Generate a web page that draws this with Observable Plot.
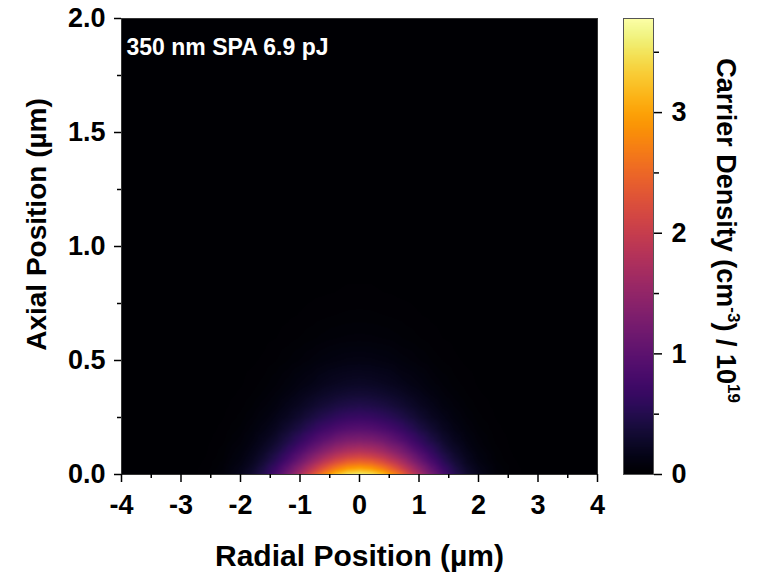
<!DOCTYPE html>
<html>
<head>
<meta charset="utf-8">
<script src="https://cdn.jsdelivr.net/npm/d3@7"></script>
<script src="https://cdn.jsdelivr.net/npm/@observablehq/plot@0.6"></script>
<style>
  body { margin: 0; background: #fff; }
  #wrap { position: relative; width: 764px; height: 573px; background: #fff; }
  #wrap svg { position: absolute; left: 0; top: 0; }
</style>
</head>
<body>
<div id="wrap"></div>
<script>
// ---- data ----
// radial positions (µm) of the sampled columns (mirrored to negative side)
const radial = [0, 0.2, 0.4, 0.6, 0.8, 1.0, 1.2, 1.4, 1.6, 1.8, 2.0, 2.3, 2.6, 3.0, 4.0];
// axial positions (µm) of the sampled rows
const axial = [0, 0.025, 0.05, 0.075, 0.1, 0.15, 0.2, 0.25, 0.3, 0.35, 0.4, 0.5, 0.6, 0.7, 0.8, 1.0, 2.0];
// carrier density / 1e19 cm^-3, one row per axial position
const density = [
  [3.60, 3.50, 3.20, 2.76, 2.24, 1.72, 1.24, 0.84, 0.54, 0.33, 0.19, 0.07, 0.02, 0.005, 0],
  [3.05, 2.96, 2.70, 2.33, 1.89, 1.45, 1.05, 0.71, 0.46, 0.28, 0.16, 0.06, 0.02, 0.004, 0],
  [2.58, 2.51, 2.29, 1.98, 1.61, 1.23, 0.89, 0.60, 0.39, 0.23, 0.13, 0.05, 0.017, 0.004, 0],
  [2.19, 2.12, 1.94, 1.67, 1.36, 1.04, 0.75, 0.51, 0.33, 0.20, 0.11, 0.04, 0.015, 0.003, 0],
  [1.85, 1.79, 1.64, 1.41, 1.15, 0.88, 0.64, 0.43, 0.28, 0.17, 0.095, 0.037, 0.012, 0.003, 0],
  [1.32, 1.29, 1.18, 1.01, 0.82, 0.63, 0.46, 0.31, 0.20, 0.12, 0.068, 0.026, 0.009, 0.002, 0],
  [0.95, 0.92, 0.84, 0.73, 0.59, 0.45, 0.33, 0.22, 0.14, 0.086, 0.049, 0.019, 0.006, 0.001, 0],
  [0.68, 0.66, 0.60, 0.52, 0.42, 0.32, 0.23, 0.16, 0.10, 0.062, 0.035, 0.014, 0.005, 0.001, 0],
  [0.49, 0.47, 0.43, 0.37, 0.30, 0.23, 0.17, 0.11, 0.073, 0.044, 0.025, 0.010, 0.003, 0.001, 0],
  [0.35, 0.34, 0.31, 0.27, 0.22, 0.17, 0.12, 0.080, 0.052, 0.032, 0.018, 0.007, 0.002, 0, 0],
  [0.25, 0.24, 0.22, 0.19, 0.15, 0.12, 0.085, 0.058, 0.037, 0.023, 0.013, 0.005, 0.002, 0, 0],
  [0.13, 0.126, 0.115, 0.10, 0.08, 0.062, 0.045, 0.030, 0.019, 0.012, 0.007, 0.003, 0.001, 0, 0],
  [0.065, 0.063, 0.058, 0.050, 0.040, 0.031, 0.022, 0.015, 0.010, 0.006, 0.003, 0.001, 0, 0, 0],
  [0.034, 0.033, 0.030, 0.026, 0.021, 0.016, 0.012, 0.008, 0.005, 0.003, 0.002, 0.001, 0, 0, 0],
  [0.017, 0.017, 0.015, 0.013, 0.011, 0.008, 0.006, 0.004, 0.003, 0.002, 0.001, 0, 0, 0, 0],
  [0.005, 0.005, 0.004, 0.004, 0.003, 0.002, 0.002, 0.001, 0.001, 0, 0, 0, 0, 0, 0],
  [0, 0, 0, 0, 0, 0, 0, 0, 0, 0, 0, 0, 0, 0, 0]
];
const xDomain = [-4, 4];
const yDomain = [0, 2];
const colorDomain = [0, 3.78];
const xTicks = [-4, -3, -2, -1, 0, 1, 2, 3, 4];
const xMinorTicks = [-3.5, -2.5, -1.5, -0.5, 0.5, 1.5, 2.5, 3.5];
const yTicks = [0, 0.5, 1.0, 1.5, 2.0];
const yMinorTicks = [0.25, 0.75, 1.25, 1.75];
const colorTicks = [0, 1, 2, 3];
const colorMinorTicks = [0.5, 1.5, 2.5, 3.5];
const annotation = "350 nm SPA 6.9 pJ";
const xTitle = "Radial Position (µm)";
const yTitle = "Axial Position (µm)";
const colorTitleParts = ["Carrier Density (cm", "-3", ") / 10", "19"];

// ---- build table ----
const points = [];
axial.forEach((z, i) => radial.forEach((r, j) => {
  points.push({x: r, y: z, v: density[i][j]});
  if (r > 0) points.push({x: -r, y: z, v: density[i][j]});
}));

const fontFamily = "'Liberation Sans', Arial, Helvetica, sans-serif";
const baseStyle = {fontFamily, fontWeight: "bold", fontSize: "27px", color: "black", background: "transparent", overflow: "visible"};

const main = Plot.plot({
  width: 764, height: 573,
  marginLeft: 121, marginRight: 167, marginTop: 18, marginBottom: 99,
  style: baseStyle,
  x: {domain: xDomain},
  y: {domain: yDomain},
  color: {type: "linear", scheme: "inferno", domain: colorDomain, clamp: true},
  marks: [
    Plot.raster(points, {x: "x", y: "y", fill: "v", interpolate: "barycentric", x1: xDomain[0], x2: xDomain[1], y1: yDomain[0], y2: yDomain[1]}),
    Plot.frame({stroke: "#333", strokeWidth: 1}),
    Plot.axisX(xMinorTicks, {tickSize: 4, tickFormat: () => "", strokeWidth: 1.5, label: null}),
    Plot.axisX(xTicks, {tickSize: 8, tickPadding: 12, tickFormat: d => String(d), strokeWidth: 1.5, label: null, fontSize: 27}),
    Plot.axisY(yMinorTicks, {tickSize: 4, tickFormat: () => "", strokeWidth: 1.5, label: null}),
    Plot.axisY(yTicks, {tickSize: 7, tickPadding: 9, tickFormat: d3.format(".1f"), strokeWidth: 1.5, label: null, fontSize: 27}),
    Plot.text([annotation], {frameAnchor: "top-left", dx: 5, dy: 20, fill: "white", fontSize: 23, fontWeight: "bold", textAnchor: "start"}),
    Plot.text([xTitle], {frameAnchor: "bottom", dy: 82, lineAnchor: "middle", textAnchor: "middle", fontSize: 30, fontWeight: "bold", fill: "black"}),
    Plot.text([yTitle], {frameAnchor: "left", dx: -84, dy: -22, rotate: -90, lineAnchor: "middle", textAnchor: "middle", fontSize: 28, fontWeight: "bold", fill: "black"})
  ]
});

const bar = Plot.plot({
  width: 764, height: 573,
  marginLeft: 623, marginRight: 111, marginTop: 18, marginBottom: 99,
  style: baseStyle,
  x: {domain: [0, 1], axis: null},
  y: {domain: colorDomain},
  color: {type: "linear", scheme: "inferno", domain: colorDomain},
  marks: [
    Plot.raster({x1: 0, x2: 1, y1: colorDomain[0], y2: colorDomain[1], fill: (x, y) => y}),
    Plot.frame({stroke: "#555", strokeWidth: 1}),
    Plot.axisY(colorMinorTicks, {anchor: "right", tickSize: 5, tickFormat: () => "", strokeWidth: 1.5, label: null}),
    Plot.axisY(colorTicks, {anchor: "right", tickSize: 8, tickPadding: 10, tickFormat: d => String(d), strokeWidth: 1.5, label: null, fontSize: 27}),
    Plot.text([colorTitleParts.join("")], {frameAnchor: "right", dx: 72, dy: -16, rotate: 90, lineAnchor: "middle", textAnchor: "middle", fontSize: 27, fontWeight: "bold", fill: "black"})
  ]
});

const wrap = document.getElementById("wrap");
wrap.appendChild(main);
wrap.appendChild(bar);

// superscripts in colour-bar title
d3.select(bar).selectAll("text").filter(function () { return this.textContent === colorTitleParts.join(""); })
  .each(function () {
    const t = d3.select(this);
    t.text(null);
    t.append("tspan").text(colorTitleParts[0]);
    t.append("tspan").attr("font-size", 17).attr("dy", -11).text(colorTitleParts[1]);
    t.append("tspan").attr("dy", 11).text(colorTitleParts[2]);
    t.append("tspan").attr("font-size", 17).attr("dy", -11).text(colorTitleParts[3]);
  });
</script>
</body>
</html>
